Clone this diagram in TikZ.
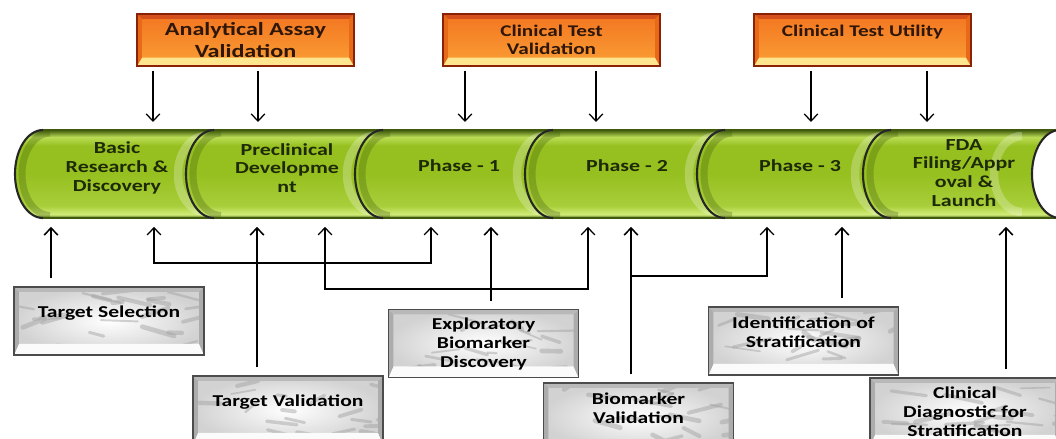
\documentclass[tikz,border=0pt]{standalone}
\usepackage{fontspec}
\setmainfont[FakeStretch=1.3]{Carlito}
\usetikzlibrary{arrows.meta,positioning,calc}

\definecolor{rimred}{HTML}{8A2208}
\definecolor{orangetop}{HTML}{F37521}
\definecolor{orangebot}{HTML}{FA9F35}
\definecolor{bevtop}{HTML}{D4501C}
\definecolor{bevbot}{HTML}{FFE58E}
\definecolor{bevside}{HTML}{E66A18}
\definecolor{inkbrown}{HTML}{2E1608}
\definecolor{inkgreen}{HTML}{1E2A06}
\definecolor{bandedge}{HTML}{3F5A0C}
\definecolor{bandlow}{HTML}{D2EC7A}
\definecolor{bandmid}{HTML}{A8CE3A}
\definecolor{bandbody}{HTML}{96C020}
\definecolor{bandhigh}{HTML}{BADC55}

\pgfdeclareverticalshading{bandshade}{100bp}{color(0bp)=(bandedge); color(25bp)=(bandedge); color(27bp)=(bandlow); color(32bp)=(bandmid); color(50bp)=(bandbody); color(66bp)=(bandbody); color(71bp)=(bandhigh); color(75bp)=(bandedge); color(100bp)=(bandedge)}

% bevelled face inside a box
\newcommand\bevelface[5]{%
  \path (path picture bounding box.north west) coordinate (pNW)
        (path picture bounding box.north east) coordinate (pNE)
        (path picture bounding box.south west) coordinate (pSW)
        (path picture bounding box.south east) coordinate (pSE);
  \fill[#1] (pNW) -- (pNE) -- ([shift={(-#4,-#4)}]pNE) -- ([shift={(#4,-#4)}]pNW) -- cycle;
  \fill[#2] (pSW) -- (pSE) -- ([shift={(-#4,#5)}]pSE) -- ([shift={(#4,#5)}]pSW) -- cycle;
  \fill[#3] (pNW) -- ([shift={(#4,-#4)}]pNW) -- ([shift={(#4,#5)}]pSW) -- (pSW) -- cycle;
  \fill[#3] (pNE) -- ([shift={(-#4,-#4)}]pNE) -- ([shift={(-#4,#5)}]pSE) -- (pSE) -- cycle;
}
% grey marble streaks
\newcommand\marblestreaks{%
  \foreach \k in {1,...,22}
    \draw[gray!75, line width={1pt+rnd*2.5pt}, line cap=round, opacity=.45]
      ([shift={({rand*64pt},{rand*22pt})}]path picture bounding box.center) -- ++({6pt+rnd*22pt},{rand*7pt});
}

\begin{document}
\begin{tikzpicture}[x=0.025cm, y=-0.025cm,
  >={Straight Barb[length=1.8mm,width=3.4mm]},
  stage/.style={font=\bfseries\fontsize{12}{13.4}\selectfont, text=inkgreen, align=center},
  topbox/.style={draw=rimred, line width=1.3pt, top color=orangetop, bottom color=orangebot,
    minimum width=5.425cm, minimum height=1.3cm, inner sep=0pt, align=center, text=inkbrown,
    font=\bfseries\fontsize{11.6}{12.8}\selectfont,
    path picture={\bevelface{bevtop}{bevbot}{bevside}{3.5pt}{6pt}}},
  graybox/.style={draw=black!70, line width=1.1pt, inner color=white, outer color=gray!35,
    minimum width=4.75cm, minimum height=1.7cm, inner sep=0pt, align=center, text=black,
    font=\bfseries\fontsize{11.8}{13.5}\selectfont,
    path picture={\marblestreaks\bevelface{gray!55}{gray!3}{gray!65}{3.5pt}{8pt}}},
  lift/.style={text depth=13pt},
  dnarr/.style={->, line width=0.9pt, shorten <=0.1cm, shorten >=0.2cm},
  uparr/.style={->, line width=1.1pt, shorten <=0.2cm, shorten >=0.22cm},
  twoarr/.style={<->, line width=0.9pt, shorten <=0.22cm, shorten >=0.22cm},
  segarc/.style={line width=1.5pt, black!85},
  segshadow/.style={line width=5pt, bandedge, opacity=.3},
  seglight/.style={line width=6pt, white, opacity=.25},
  bandline/.style={line width=0.8pt, bandedge}]
\pgfmathsetseed{3}
\useasboundingbox (0,0) rectangle (1056,439);
\clip (0,0) rectangle (1056,439);

% pipeline band
\foreach \xa/\xb in {15/186,186/355,355/525,525/697,697/863}{
  \shade[shading=bandshade] (\xa+28,130) arc[start angle=90,end angle=270,x radius=0.7cm,y radius=1.1cm] -- (\xb+40,218) -- (\xb+40,130) -- cycle;
  \draw[seglight] (\xb+20,136) arc[start angle=90,end angle=270,x radius=0.7cm,y radius=0.95cm];
  \draw[segshadow] (\xa+35,133) arc[start angle=90,end angle=270,x radius=0.7cm,y radius=1.03cm];
  \draw[bandline] (\xa+28,130) -- (\xb+40,130) (\xa+28,218) -- (\xb+40,218);
  \draw[segarc] (\xa+28,130) arc[start angle=90,end angle=270,x radius=0.7cm,y radius=1.1cm];
}
\shade[shading=bandshade] (891,130) arc[start angle=90,end angle=270,x radius=0.7cm,y radius=1.1cm] -- (1060,218) -- (1060,130) -- cycle;
\draw[seglight] (1022,136) arc[start angle=90,end angle=270,x radius=0.7cm,y radius=0.95cm];
\draw[segshadow] (898,133) arc[start angle=90,end angle=270,x radius=0.7cm,y radius=1.03cm];
\draw[bandline] (891,130) -- (1060,130) (891,218) -- (1060,218);
\draw[segarc] (891,130) arc[start angle=90,end angle=270,x radius=0.7cm,y radius=1.1cm];
\draw[segarc, fill=white] (1060,174) ellipse[x radius=0.7cm, y radius=1.1cm];

% stages
\node[stage] (basic) at (117,168) {Basic\\Research \&\\Discovery};
\node[stage] (precl) at (287,168) {Preclinical\\Developme\\nt};
\node[stage] (ph1) at (459,166) {Phase - 1};
\node[stage] (ph2) at (627,166) {Phase - 2};
\node[stage] (ph3) at (800,166) {Phase - 3};
\node[stage] (fda) at (964,173) {FDA\\Filing/Appr\\oval \&\\Launch};

% validation boxes
\node[topbox, font=\bfseries\fontsize{13.2}{15.4}\selectfont] (ava) at (245.5,40) {Analytical Assay\\Validation};
\node[topbox] (ctv) at (551.5,40) {Clinical Test\\Validation};
\node[topbox, lift] (ctu) at (862.5,40) {Clinical Test Utility};

% biomarker boxes
\node[graybox, lift] (tsel) at (109,321) {Target Selection};
\node[graybox, lift] (tval) at (288,410) {Target Validation};
\node[graybox] (ebd) at (483.5,343.5) {Exploratory\\Biomarker\\Discovery};
\node[graybox, lift] (bval) at (638.5,417) {Biomarker\\Validation};
\node[graybox, lift] (idst) at (803.5,341) {Identification of\\Stratification};
\node[graybox] (cdst) at (965,412) {Clinical\\Diagnostic for\\Stratification};

% arrow ends on the band
\foreach \n/\x in {a/153,b/258,c/465,d/596,e/811,f/927}
  \coordinate (top\n) at (\x,130);
\foreach \n/\x in {a/51,b/154,c/257,d/325,e/431,f/491,g/588,h/631,i/767,j/842,k/1006}
  \coordinate (bot\n) at (\x,218);

\draw[dnarr] (ava.south -| topa) -- (topa);
\draw[dnarr] (ava.south -| topb) -- (topb);
\draw[dnarr] (ctv.south -| topc) -- (topc);
\draw[dnarr] (ctv.south -| topd) -- (topd);
\draw[dnarr] (ctu.south -| tope) -- (tope);
\draw[dnarr] (ctu.south -| topf) -- (topf);

\draw[uparr] (tsel.north -| bota) -- (bota);
\draw[uparr] (tval.north -| botc) -- (botc);
\draw[uparr] (ebd.north -| botf) -- (botf);
\draw[uparr] (bval.north -| both) -- (both);
\draw[uparr] (idst.north -| botj) -- (botj);
\draw[uparr] (cdst.north -| botk) -- (botk);

\draw[twoarr] (botb) -- ++(0,45) -| (bote);
\draw[twoarr] (botd) -- ++(0,71) -| (botg);
\draw[->, line width=0.9pt, shorten >=0.22cm] (both) ++(0,58) -| (boti);
\end{tikzpicture}
\end{document}
